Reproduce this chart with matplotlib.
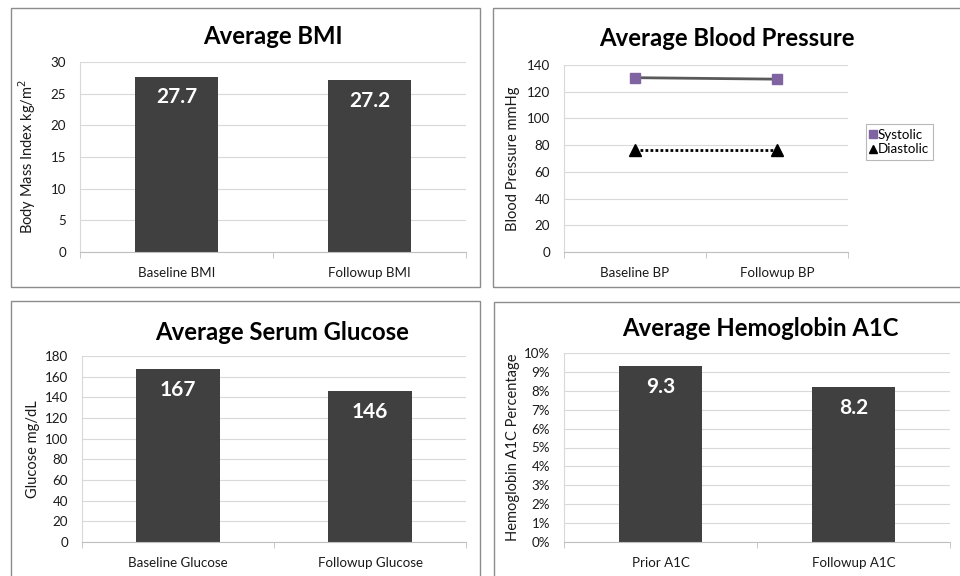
import matplotlib.pyplot as plt
from matplotlib.patches import Rectangle
from matplotlib.ticker import FuncFormatter

plt.rcParams['font.family'] = ['Lato', 'DejaVu Sans']

bmi_labels = ['Baseline BMI', 'Followup BMI']
bmi_values = [27.7, 27.2]

bp_labels = ['Baseline BP', 'Followup BP']
systolic = [130.5, 129.4]
diastolic = [76, 76]

glu_labels = ['Baseline Glucose', 'Followup Glucose']
glu_values = [167, 146]

a1c_labels = ['Prior A1C', 'Followup A1C']
a1c_values = [9.3, 8.2]

W, H = 960, 576
fig = plt.figure(figsize=(9.6, 5.76), dpi=100)
fig.patch.set_facecolor('white')

BAR = '#404040'
GRID = '#d9d9d9'
TXT = '#1a1a1a'
TICK_FS = 9.6
LAB_FS = 10.5
TITLE_FS = 17.2


def px_axes(x0, y0, x1, y1):
    # pixel box (top-left origin) -> figure axes
    return fig.add_axes([x0 / W, 1 - y1 / H, (x1 - x0) / W, (y1 - y0) / H])


def panel_box(x0, y0, x1, y1):
    fig.patches.append(Rectangle((x0 / W, 1 - y1 / H), (x1 - x0) / W, (y1 - y0) / H,
                                 transform=fig.transFigure, fill=False,
                                 edgecolor='#8c8c8c', linewidth=1.0))


def style(ax, labels, ylabel, ymax, step):
    ax.set_xlim(-0.5, 1.5)
    ax.set_ylim(0, ymax)
    ax.set_yticks([i * step for i in range(int(round(ymax / step)) + 1)])
    ax.set_xticks([0, 1])
    ax.set_xticklabels(labels)
    ax.set_xticks([-0.5, 0.5, 1.5], minor=True)
    ax.tick_params(axis='x', which='major', length=0, pad=11, labelsize=TICK_FS, colors=TXT)
    ax.tick_params(axis='x', which='minor', length=4, color='#bfbfbf', direction='out')
    ax.tick_params(axis='y', length=0, pad=10, labelsize=TICK_FS, colors=TXT)
    ax.grid(axis='y', color=GRID, linewidth=0.8)
    ax.set_axisbelow(True)
    for s in ['top', 'right']:
        ax.spines[s].set_visible(False)
    ax.spines['left'].set_color(GRID)
    ax.spines['bottom'].set_color('#bfbfbf')
    ax.set_ylabel(ylabel, fontsize=LAB_FS, color=TXT)


def bars(ax, values, ymax, fmt):
    ax.bar([0, 1], values, width=0.435, color=BAR, zorder=2)
    off = ymax * 0.11
    for i, v in enumerate(values):
        ax.text(i, v - off, fmt(v), ha='center', va='center', color='white',
                fontsize=15, fontweight='bold', zorder=3)


# Top-left: BMI
panel_box(11, 8, 480, 287)
ax1 = px_axes(80, 62, 466, 252)
style(ax1, bmi_labels, 'Body Mass Index kg/m$^2$', 30, 5)
bars(ax1, bmi_values, 30, lambda v: f'{v:.1f}')
ax1.yaxis.set_label_coords(-0.108, 0.5)
fig.text(273 / W, 1 - 37 / H, 'Average BMI', ha='center', va='center',
         fontsize=TITLE_FS, fontweight='bold', color='black')

# Top-right: Blood pressure
panel_box(493, 8, 965, 287)
ax2 = px_axes(564, 65, 848, 252)
style(ax2, bp_labels, 'Blood Pressure mmHg', 140, 20)
ax2.plot([0, 1], systolic, color='#595959', linewidth=2, marker='s', markersize=7,
         markerfacecolor='#8064a2', markeredgecolor='#8064a2', label='Systolic', zorder=3)
ax2.plot([0, 1], diastolic, color='black', linewidth=2, linestyle=(0, (1, 0.8)), marker='^',
         markersize=8, markerfacecolor='black', markeredgecolor='black', label='Diastolic', zorder=3)
ax2.yaxis.set_label_coords(-0.155, 0.5)
leg = ax2.legend(loc='center left', bbox_to_anchor=((866 - 564) / 284, (252 - 142) / 187),
                 borderaxespad=0, fontsize=TICK_FS, frameon=True, fancybox=False,
                 handlelength=0.4, handletextpad=0.1, borderpad=0.35, labelspacing=0.2,
                 markerscale=0.75)
leg.get_frame().set_edgecolor('#a6a6a6')
leg.get_frame().set_linewidth(0.8)
for h in leg.legend_handles:
    h.set_linestyle('none')
fig.text(727 / W, 1 - 39 / H, 'Average Blood Pressure', ha='center', va='center',
         fontsize=TITLE_FS, fontweight='bold', color='black')

# Bottom-left: Glucose
panel_box(11, 301, 480, 590)
ax3 = px_axes(82, 356, 466, 542)
style(ax3, glu_labels, 'Glucose mg/dL', 180, 20)
bars(ax3, glu_values, 180, lambda v: f'{v:.0f}')
ax3.yaxis.set_label_coords(-0.11, 0.5)
fig.text(282 / W, 1 - 332 / H, 'Average Serum Glucose', ha='center', va='center',
         fontsize=TITLE_FS, fontweight='bold', color='black')

# Bottom-right: A1C
panel_box(494, 302, 965, 590)
ax4 = px_axes(564, 353, 950, 542)
style(ax4, a1c_labels, 'Hemoglobin A1C Percentage', 10, 1)
bars(ax4, a1c_values, 10, lambda v: f'{v:.1f}')
ax4.yaxis.set_major_formatter(FuncFormatter(lambda v, p: f'{v:.0f}%'))
ax4.yaxis.set_label_coords(-0.115, 0.5)
fig.text(760 / W, 1 - 329 / H, 'Average Hemoglobin A1C', ha='center', va='center',
         fontsize=TITLE_FS, fontweight='bold', color='black')

fig.savefig('out.png', dpi=100, facecolor='white')
